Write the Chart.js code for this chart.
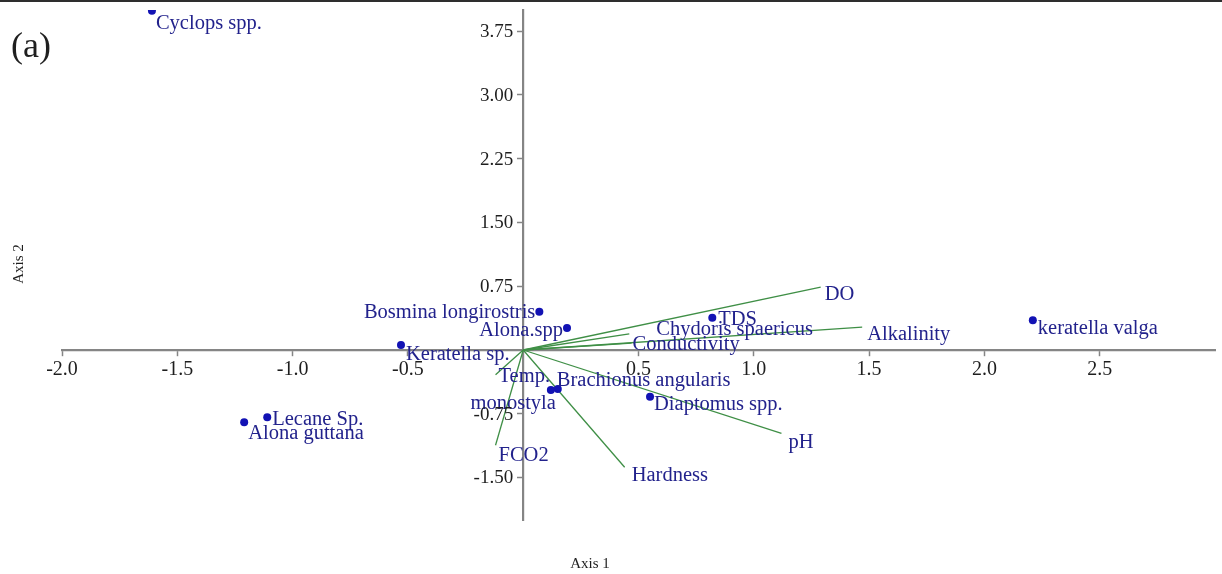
<!DOCTYPE html>
<html>
<head>
<meta charset="utf-8">
<title>CCA biplot (a)</title>
<script src="https://cdn.jsdelivr.net/npm/chart.js@4.4.1/dist/chart.umd.min.js"></script>
<style>
  html, body { margin: 0; padding: 0; background: #fff; }
  #wrap { position: relative; width: 1222px; height: 574px; overflow: hidden; }
  #topline { position: absolute; left: 0; top: 0; width: 1222px; height: 2px; background: #2e2e2e; }
  #c { position: absolute; left: 0; top: 0; }
  .txt { position: absolute; font-family: "Liberation Serif", "DejaVu Serif", serif; color: #1f1f1f; white-space: nowrap; }
  #panel { left: 11px; top: 24px; font-size: 36px; line-height: 42px; }
  #xtitle { left: 590px; top: 563px; font-size: 15px; transform: translate(-50%, -50%); }
  #ytitle { left: 18px; top: 264px; font-size: 15px; transform: translate(-50%, -50%) rotate(-90deg); }
</style>
</head>
<body>
<div id="wrap">
  <canvas id="c" width="1222" height="574"></canvas>
  <div id="topline"></div>
  <div id="panel" class="txt">(a)</div>
  <div id="xtitle" class="txt">Axis 1</div>
  <div id="ytitle" class="txt">Axis 2</div>
</div>
<script>
// Species scores on the first two ordination axes
const speciesNames = ["Cyclops spp.", "Bosmina longirostris", "Alona.spp", "Keratella sp.",
  "Chydoris spaericus", "keratella valga", "Brachionus angularis", "monostyla",
  "Diaptomus spp.", "Lecane Sp.", "Alona guttana"];
const speciesAxis1 = [-1.61, 0.07, 0.19, -0.53, 0.82, 2.21, 0.15, 0.12, 0.55, -1.11, -1.21];
const speciesAxis2 = [3.99, 0.45, 0.26, 0.06, 0.38, 0.35, -0.46, -0.47, -0.55, -0.79, -0.85];

// Environmental variable vectors (arrow tips, drawn from the origin)
const envNames = ["DO", "Alkalinity", "TDS", "Conductivity", "pH", "Hardness", "FCO2", "Temp."];
const envAxis1 = [1.29, 1.47, 0.46, 0.47, 1.12, 0.44, -0.12, -0.12];
const envAxis2 = [0.74, 0.27, 0.19, 0.08, -0.98, -1.38, -1.12, -0.29];

// Tick values shown on the axes
const axis1Ticks = [-2.0, -1.5, -1.0, -0.5, 0.5, 1.0, 1.5, 2.0, 2.5];
const axis2Ticks = [-1.5, -0.75, 0.75, 1.5, 2.25, 3.0, 3.75];

// Label placement relative to each mark: [dx, dy, align]
const labelPlacement = {
  "Cyclops spp.": [4, 13, "left"],
  "Bosmina longirostris": [-4, 1, "right"],
  "Alona.spp": [-4, 3, "right"],
  "Keratella sp.": [5, 10, "left"],
  "Chydoris spaericus": [-56, 12, "left"],
  "keratella valga": [5, 8, "left"],
  "Brachionus angularis": [-1, -8, "left"],
  "monostyla": [5, 14, "right"],
  "Diaptomus spp.": [4, 8, "left"],
  "Lecane Sp.": [5, 2, "left"],
  "Alona guttana": [4, 11, "left"],
  "DO": [4, 8, "left"],
  "Alkalinity": [5, 8, "left"],
  "TDS": [89, -14, "left"],
  "Conductivity": [1, 1, "left"],
  "pH": [7, 9, "left"],
  "Hardness": [7, 8, "left"],
  "FCO2": [3, 10, "left"],
  "Temp.": [3, 2, "left"]
};

const ink = "#22228c";
const dotColor = "#1212b4";
const vectorColor = "#3f8f46";
const axisColor = "#858585";
const tickInk = "#1e1e1e";
const tickFontCss = '19px "Liberation Serif", serif';

const speciesPoints = speciesNames.map((n, i) => ({ x: speciesAxis1[i], y: speciesAxis2[i], name: n }));

const envDatasets = envNames.map((n, i) => ({
  type: "line",
  label: n,
  data: [{ x: 0, y: 0 }, { x: envAxis1[i], y: envAxis2[i], name: n }],
  borderColor: vectorColor,
  borderWidth: 1.3,
  pointRadius: 0,
  fill: false,
  tension: 0,
  order: 2
}));

// Names next to species dots and vector tips
const markLabels = {
  id: "markLabels",
  afterDatasetsDraw(chart) {
    const ctx = chart.ctx;
    ctx.save();
    ctx.font = '20.5px "Liberation Serif", serif';
    ctx.fillStyle = ink;
    ctx.textBaseline = "middle";
    chart.data.datasets.forEach((ds, di) => {
      const meta = chart.getDatasetMeta(di);
      ds.data.forEach((p, pi) => {
        if (!p.name) return;
        const el = meta.data[pi];
        const pl = labelPlacement[p.name] || [4, 0, "left"];
        ctx.textAlign = pl[2];
        ctx.fillText(p.name, el.x + pl[0], el.y + pl[1]);
      });
    });
    ctx.restore();
  }
};

// Axis 2 tick labels, set just left of the centred vertical axis
const axis2Labels = {
  id: "axis2Labels",
  afterDraw(chart) {
    const xs = chart.scales.x, ys = chart.scales.y;
    const ax = xs.getPixelForValue(0);
    const ctx = chart.ctx;
    ctx.save();
    ctx.font = tickFontCss;
    ctx.fillStyle = tickInk;
    ctx.textAlign = "right";
    ctx.textBaseline = "middle";
    ys.ticks.forEach(t => {
      ctx.fillText(Number(t.value).toFixed(2), ax - 10, ys.getPixelForValue(t.value) + 1);
    });
    ctx.restore();
  }
};

new Chart(document.getElementById("c"), {
  type: "scatter",
  data: {
    datasets: [
      {
        type: "scatter",
        label: "Species",
        data: speciesPoints,
        pointRadius: 4,
        pointHoverRadius: 4,
        pointBackgroundColor: dotColor,
        pointBorderColor: dotColor,
        pointBorderWidth: 0,
        order: 1
      },
      ...envDatasets
    ]
  },
  options: {
    responsive: false,
    animation: false,
    events: [],
    layout: { padding: { left: 62, right: 7, top: 10, bottom: 54 } },
    plugins: { legend: { display: false }, tooltip: { enabled: false } },
    scales: {
      x: {
        type: "linear",
        min: -2,
        max: 3,
        position: { y: 0 },
        afterFit(scale) { scale.height = 0; },
        afterBuildTicks(scale) { scale.ticks = axis1Ticks.map(v => ({ value: v })); },
        grid: { drawOnChartArea: false, drawTicks: true, tickLength: 5, color: axisColor, tickWidth: 1.5 },
        border: { display: true, color: axisColor, width: 2.2 },
        ticks: {
          font: { family: '"Liberation Serif", serif', size: 20 },
          color: tickInk,
          padding: 3,
          maxRotation: 0,
          autoSkip: false,
          callback: v => Number(v).toFixed(1)
        }
      },
      y: {
        type: "linear",
        min: -2,
        max: 4,
        position: { x: 0 },
        afterFit(scale) { scale.width = 0; },
        afterBuildTicks(scale) { scale.ticks = axis2Ticks.map(v => ({ value: v })); },
        grid: { drawOnChartArea: false, drawTicks: true, tickLength: 5, color: axisColor, tickWidth: 1.5 },
        border: { display: true, color: axisColor, width: 2.2 },
        ticks: { display: false }
      }
    }
  },
  plugins: [markLabels, axis2Labels]
});
</script>
</body>
</html>
